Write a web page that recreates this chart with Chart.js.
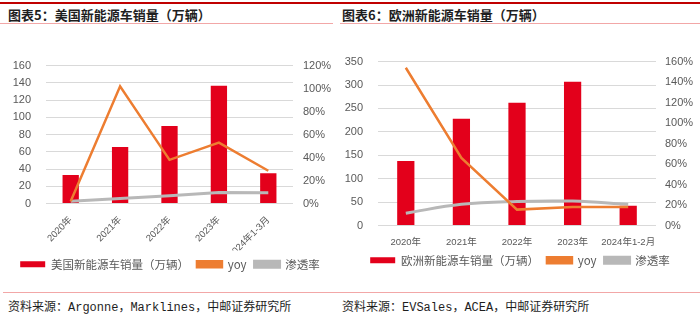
<!DOCTYPE html>
<html>
<head>
<meta charset="utf-8">
<script src="https://cdn.jsdelivr.net/npm/chart.js@4"></script>
<style>
  body { margin: 0; width: 700px; height: 323px; background: #fff; position: relative; overflow: hidden; }
  .bar { position: absolute; height: 2px; background: #c00000; }
  .pink { position: absolute; height: 1px; background: #f2a7a7; }
  .title { position: absolute; top: 5px; font: bold 13px "Noto Sans CJK SC", sans-serif; color: #1e1e1e; }
  .source { position: absolute; top: 297px; font: 12px "Liberation Mono", "Noto Sans CJK SC", monospace; color: #1e1e1e; }
  .box { position: absolute; }
</style>
</head>
<body>
<div class="bar" style="left:0;top:2px;width:700px"></div>
<div class="pink" style="left:0;top:23px;width:333px"></div>
<div class="pink" style="left:340px;top:23px;width:360px"></div>
<div class="title" style="left:8px">图表5：美国新能源车销量（万辆）</div>
<div class="title" style="left:342px">图表6：欧洲新能源车销量（万辆）</div>

<div class="box" style="left:0;top:44px;width:340px;height:236px"><canvas id="usChart"></canvas></div>
<div class="box" style="left:340px;top:40px;width:360px;height:236px"><canvas id="euChart"></canvas></div>

<div class="pink" style="left:3px;top:292px;width:330px"></div>
<div class="pink" style="left:333px;top:292px;width:367px"></div>
<div class="source" style="left:8px">资料来源：Argonne，Marklines，中邮证券研究所</div>
<div class="source" style="left:342px">资料来源：EVSales，ACEA，中邮证券研究所</div>

<script>
// 美国
var usLabels = ["2020年", "2021年", "2022年", "2023年", "2024年1-3月"];
var usSales = [33, 65.5, 90, 136.5, 35];
var usYoy = [2, 102, 38, 53, 28.5];
var usPen = [2, 4.4, 6.7, 9.6, 9.4];

// 欧洲
var euLabels = ["2020年", "2021年", "2022年", "2023年", "2024年1-2月"];
var euSales = [138, 228, 262, 307, 42];
var euYoy = [154, 66, 15.5, 18, 18];
var euPen = [12, 20.7, 23.5, 23.8, 20.7];

var red = "#e3001b";
var orange = "#ed7d31";
var grey = "#b8b8b8";
var tickColor = "#595959";

Chart.defaults.font.family = "'Liberation Sans', Arial, 'Noto Sans CJK SC', sans-serif";
Chart.defaults.animation = false;

function makeChart(id, o) {
  var ctx = document.getElementById(id).getContext("2d");
  return new Chart(ctx, {
    type: "bar",
    data: {
      labels: o.labels,
      datasets: [
        {
          label: o.name,
          data: o.sales,
          backgroundColor: red,
          barPercentage: o.barPct,
          categoryPercentage: 1,
          yAxisID: "y",
          order: 3
        },
        {
          type: "line",
          label: "yoy",
          data: o.yoy,
          borderColor: orange,
          backgroundColor: orange,
          borderWidth: 2.5,
          pointRadius: 0,
          yAxisID: "y1",
          order: 1
        },
        {
          type: "line",
          label: "渗透率",
          data: o.pen,
          borderColor: grey,
          backgroundColor: grey,
          borderWidth: 3,
          pointRadius: 0,
          tension: o.tension,
          yAxisID: "y1",
          order: 2
        }
      ]
    },
    options: {
      responsive: true,
      maintainAspectRatio: false,
      layout: { padding: { top: o.padTop, bottom: 0, left: 0, right: 0 } },
      plugins: {
        tooltip: { enabled: false },
        legend: {
          position: "bottom",
          labels: {
            color: tickColor,
            boxWidth: 25,
            boxHeight: 6,
            padding: 8,
            font: { size: 11.5, family: "'Noto Sans CJK SC', sans-serif" },
            sort: function(a, b) { return a.datasetIndex - b.datasetIndex; }
          }
        }
      },
      scales: {
        x: {
          grid: { display: false },
          border: { display: false },
          ticks: {
            color: tickColor,
            font: { size: 9.5 },
            maxRotation: o.rot,
            minRotation: o.rot,
            autoSkip: false,
            padding: 3
          },
          afterFit: function(s) { s.height = o.xHeight; }
        },
        y: {
          position: "left",
          min: 0,
          max: o.yMax,
          ticks: { stepSize: o.yStep, color: tickColor, font: { size: 11 }, padding: o.leftPad },
          grid: { color: "#d9d9d9", drawTicks: false },
          border: { display: false },
          afterFit: function(s) { s.width = o.leftW; }
        },
        y1: {
          position: "right",
          min: 0,
          max: o.y1Max,
          ticks: {
            stepSize: 20,
            color: tickColor,
            font: { size: 11 },
            padding: o.rightPad,
            callback: function(v) { return v + "%"; }
          },
          grid: { display: false, drawTicks: false },
          border: { display: false },
          afterFit: function(s) { s.width = o.rightW; }
        }
      }
    }
  });
}

makeChart("usChart", {
  labels: usLabels, name: "美国新能源车销量（万辆）",
  sales: usSales, yoy: usYoy, pen: usPen,
  barPct: 0.33, tension: 0, padTop: 20, rot: 45, xHeight: 47,
  yMax: 160, yStep: 20, y1Max: 120,
  leftW: 46, rightW: 47, leftPad: 15, rightPad: 10
});

makeChart("euChart", {
  labels: euLabels, name: "欧洲新能源车销量（万辆）",
  sales: euSales, yoy: euYoy, pen: euPen,
  barPct: 0.31, tension: 0.4, padTop: 18, rot: 0, xHeight: 21,
  yMax: 350, yStep: 50, y1Max: 160,
  leftW: 38, rightW: 44, leftPad: 15, rightPad: 9
});
</script>
</body>
</html>
